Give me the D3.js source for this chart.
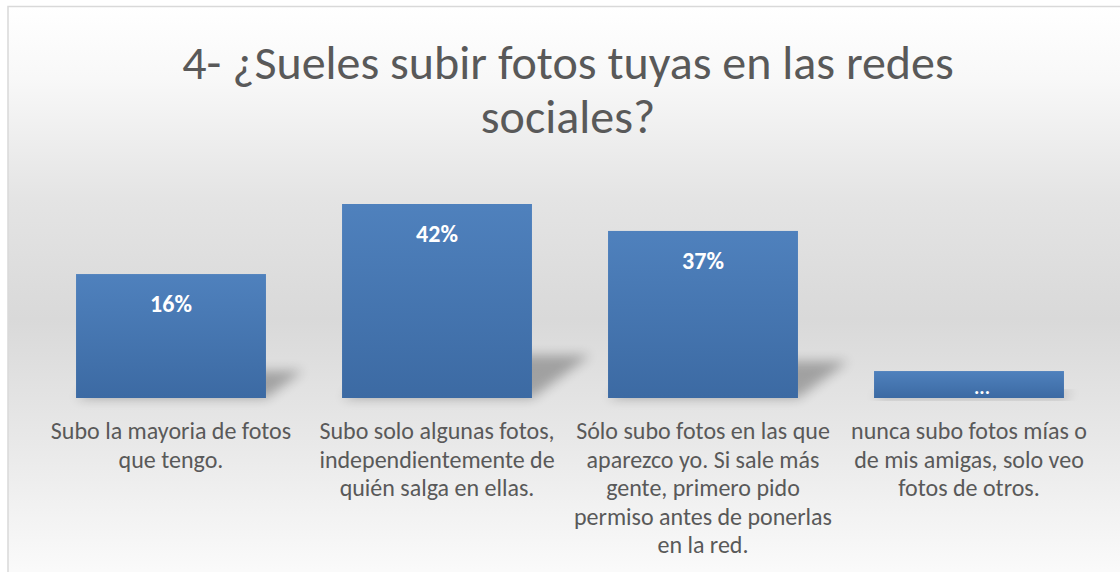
<!DOCTYPE html>
<html>
<head>
<meta charset="utf-8">
<script src="https://cdn.jsdelivr.net/npm/d3@7"></script>
<style>
  html, body { margin: 0; padding: 0; background: #fff; }
  svg { display: block; }
</style>
</head>
<body>
<svg id="chart" width="1120" height="572"></svg>
<script>
// survey answers (line breaks as in the original chart)
var categories = [
  "Subo la mayoria de fotos\nque tengo.",
  "Subo solo algunas fotos,\nindependientemente de\nquién salga en ellas.",
  "Sólo subo fotos en las que\naparezco yo. Si sale más\ngente, primero pido\npermiso antes de ponerlas\nen la red.",
  "nunca subo fotos mías o\nde mis amigas, solo veo\nfotos de otros."
];
// bar heights
var values = [23, 36, 31, 5];
// data labels shown on the bars
var valueLabels = ["16%", "42%", "37%", "..."];
var titleLines = ["4- ¿Sueles subir fotos tuyas en las redes", "sociales?"];

var svg = d3.select("#chart"),
    baseY = 398,
    topY = 204;

var defs = svg.append("defs");

var bg = defs.append("linearGradient").attr("id", "bg")
    .attr("x1", 0).attr("y1", 0).attr("x2", 0).attr("y2", 1);
bg.append("stop").attr("offset", "0%").attr("stop-color", "#ffffff");
bg.append("stop").attr("offset", "12%").attr("stop-color", "#f8f8f8");
bg.append("stop").attr("offset", "32%").attr("stop-color", "#e4e4e4");
bg.append("stop").attr("offset", "52%").attr("stop-color", "#d9d9d9");
bg.append("stop").attr("offset", "72%").attr("stop-color", "#e8e8e8");
bg.append("stop").attr("offset", "100%").attr("stop-color", "#ffffff");

var barGrad = defs.append("linearGradient").attr("id", "barGrad")
    .attr("x1", 0).attr("y1", 0).attr("x2", 0).attr("y2", 1);
barGrad.append("stop").attr("offset", "0%").attr("stop-color", "#4f81bd");
barGrad.append("stop").attr("offset", "100%").attr("stop-color", "#3c6aa3");

defs.append("filter").attr("id", "blur")
    .attr("x", "-50%").attr("y", "-50%").attr("width", "200%").attr("height", "200%")
  .append("feGaussianBlur").attr("stdDeviation", 6);

// chart area with border
svg.append("rect")
   .attr("x", 8).attr("y", 6.5)
   .attr("width", 1130).attr("height", 600)
   .attr("fill", "url(#bg)")
   .attr("stroke", "#d9d9d9")
   .attr("stroke-width", 1.5);

// title
svg.append("g").selectAll("text")
   .data(titleLines)
   .enter().append("text")
   .attr("x", 568)
   .attr("y", function(d, i) { return 79 + i * 54; })
   .attr("text-anchor", "middle")
   .attr("font-family", "Carlito, Calibri, Lato, sans-serif")
   .attr("font-weight", 300)
   .attr("font-size", "48px")
   .attr("fill", "#595959")
   .text(function(d) { return d; });

var xScale = d3.scaleBand()
    .domain(d3.range(categories.length))
    .range([38, 1102])
    .paddingInner(0.286)
    .paddingOuter(0.143);

var yScale = d3.scaleLinear()
    .domain([0, d3.max(values)])
    .range([baseY, topY]);

var g = svg.append("g");

// perspective shadows behind the bars
g.selectAll(".shadow")
 .data(values)
 .enter().append("polygon")
 .attr("class", "shadow")
 .attr("points", function(d, i) {
     var x0 = xScale(i), x1 = x0 + xScale.bandwidth(),
         h = baseY - yScale(d), dx = 0.3 * h, dy = 0.22 * h;
     return [[x0, baseY], [x1, baseY], [x1 + dx, baseY - dy], [x0 + dx, baseY - dy]].join(" ");
 })
 .attr("fill", "#000")
 .attr("opacity", 0.28)
 .attr("filter", "url(#blur)");

g.selectAll(".bar")
 .data(values)
 .enter().append("rect")
 .attr("class", "bar")
 .attr("x", function(d, i) { return xScale(i); })
 .attr("y", function(d) { return yScale(d); })
 .attr("width", xScale.bandwidth())
 .attr("height", function(d) { return baseY - yScale(d); })
 .attr("fill", "url(#barGrad)");

// value labels
g.selectAll(".vlabel")
 .data(values)
 .enter().append("text")
 .attr("class", "vlabel")
 .attr("x", function(d, i) {
     var c = xScale(i) + xScale.bandwidth() / 2;
     return valueLabels[i] === "..." ? c + 13 : c;
 })
 .attr("y", function(d, i) {
     return valueLabels[i] === "..." ? yScale(d) + 23 : yScale(d) + 38;
 })
 .attr("text-anchor", "middle")
 .attr("font-family", "Carlito, Calibri, Lato, sans-serif")
 .attr("font-weight", "bold")
 .attr("font-size", function(d, i) { return valueLabels[i] === "..." ? "20px" : "24px"; })
 .attr("fill", "#ffffff")
 .text(function(d, i) { return valueLabels[i]; });

// category labels
var cat = g.selectAll(".cat")
 .data(categories)
 .enter().append("text")
 .attr("class", "cat")
 .attr("text-anchor", "middle")
 .attr("font-family", "Carlito, Calibri, Lato, sans-serif")
 .attr("font-size", "24px")
 .attr("fill", "#595959");

cat.selectAll("tspan")
 .data(function(d, i) {
     return d.split("\n").map(function(line) { return { line: line, i: i }; });
 })
 .enter().append("tspan")
 .attr("x", function(d) { return xScale(d.i) + xScale.bandwidth() / 2; })
 .attr("y", function(d, j) { return 439 + j * 28.5; })
 .text(function(d) { return d.line; });
</script>
</body>
</html>
